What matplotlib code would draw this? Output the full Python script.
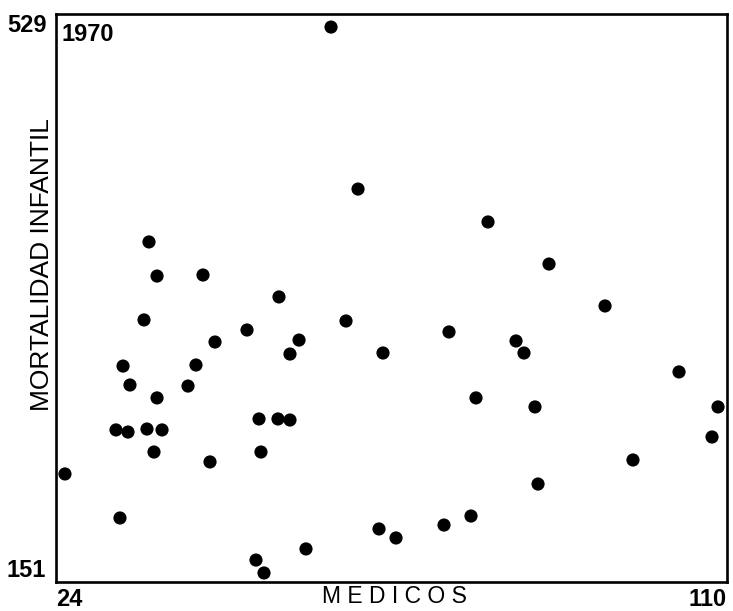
import matplotlib
matplotlib.use("Agg")
import matplotlib.pyplot as plt

medicos = [25.15, 32.20, 31.69, 33.23, 32.59, 33.48, 35.28, 35.92, 35.66, 36.56,
           36.95, 36.95, 37.59, 40.92, 41.94, 42.84, 43.74, 44.38, 48.48, 49.63,
           50.66, 50.02, 50.27, 52.45, 53.99, 52.58, 53.99, 55.15, 56.04, 59.25,
           61.17, 62.71, 65.40, 65.91, 67.58, 73.73, 74.37, 77.19, 77.83, 79.37,
           82.96, 83.98, 85.39, 85.78, 87.19, 94.37, 97.95, 103.85, 108.08, 108.85]
mortalidad = [222.9, 193.6, 252.2, 250.8, 294.7, 282.1, 325.4, 377.3, 252.8, 237.5,
              273.5, 354.6, 252.2, 281.4, 295.4, 355.3, 230.9, 310.7, 318.7, 165.6,
              157.0, 259.5, 237.5, 259.5, 258.8, 340.7, 302.7, 312.0, 173.0, 520.3,
              324.7, 412.5, 186.3, 303.4, 180.3, 188.9, 317.4, 194.9, 273.5, 390.6,
              311.4, 303.4, 267.5, 216.2, 362.6, 334.7, 232.2, 290.8, 247.5, 267.5]
x_ticks = [24, 110]
y_ticks = [151, 529]
year = "1970"

plt.rcParams['font.family'] = ['Liberation Sans', 'DejaVu Sans']
fig = plt.figure(figsize=(7.33, 6.11), dpi=100)
ax = fig.add_axes([56/733, 29/611, 671/733, 568/611])
ax.scatter(medicos, mortalidad, s=90, color='black', edgecolors='none', zorder=3)
ax.set_xlim(24, 110)
ax.set_ylim(151, 529)
for sp in ax.spines.values():
    sp.set_linewidth(1.9)
ax.set_xticks(x_ticks)
ax.set_xticklabels([str(t) for t in x_ticks], fontsize=17, fontweight='bold')
ax.set_yticks(y_ticks)
ax.set_yticklabels([str(t) for t in y_ticks], fontsize=17, fontweight='bold')
ax.tick_params(axis='y', length=0, pad=7)
ax.tick_params(axis='x', length=0, pad=4)
xl = ax.get_xticklabels()
xl[0].set_ha('left'); xl[1].set_ha('right')
yl = ax.get_yticklabels()
yl[0].set_va('bottom'); yl[1].set_va('top')
ax.text(0.008, 0.985, year, transform=ax.transAxes, fontsize=17, fontweight='bold',
        ha='left', va='top')
ax.text(0.505, -0.006, "M E D I C O S", transform=ax.transAxes, fontsize=16.5,
        ha='center', va='top')
fig.text(42/733, 1 - 265/611, "MORTALIDAD INFANTIL", rotation=90, fontsize=19,
         ha='center', va='center')
fig.savefig("out.png", dpi=100)
